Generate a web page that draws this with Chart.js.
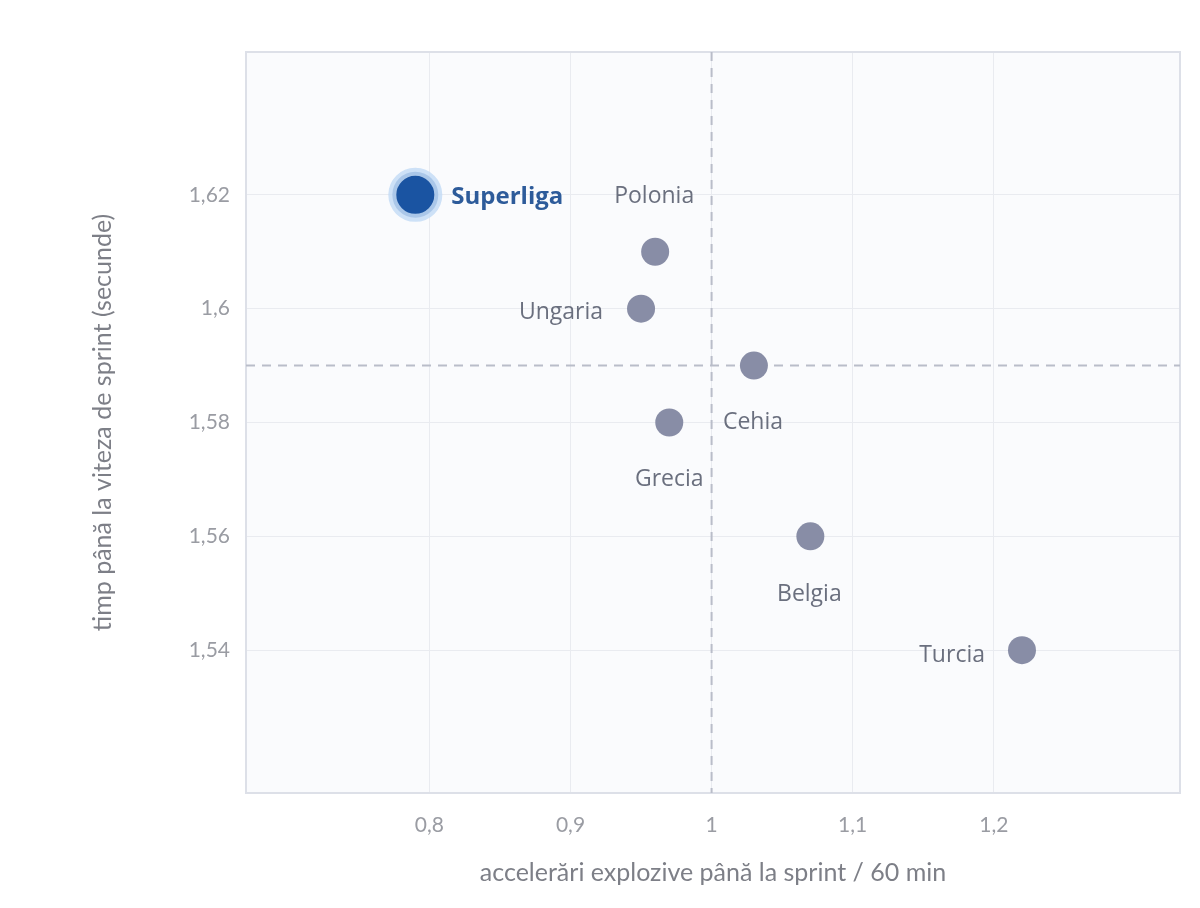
<!DOCTYPE html>
<html>
<head>
<meta charset="utf-8">
<script src="https://cdn.jsdelivr.net/npm/chart.js@4"></script>
<style>
  html, body { margin: 0; padding: 0; background: #ffffff; overflow: hidden; }
  canvas { display: block; }
</style>
</head>
<body>
<canvas id="grafic" width="1200" height="908"></canvas>
<script>
// date
const tari = ['Superliga', 'Polonia', 'Ungaria', 'Cehia', 'Grecia', 'Belgia', 'Turcia'];
const acceleratii = [0.79, 0.96, 0.95, 1.03, 0.97, 1.07, 1.22];
const timpi = [1.62, 1.61, 1.60, 1.59, 1.58, 1.56, 1.54];
const xTicks = [0.8, 0.9, 1.0, 1.1, 1.2];
const yTicks = [1.54, 1.56, 1.58, 1.60, 1.62];
const medieX = 1.0;
const medieY = 1.59;

// unde sta eticheta fata de punct (stil, nu date)
const pozEticheta = {
  Superliga: { dx: 36, dy: 2, align: 'left' },
  Polonia: { dx: -1, dy: -55, align: 'center' },
  Ungaria: { dx: -38, dy: 4, align: 'right' },
  Cehia: { dx: -31, dy: 57, align: 'left' },
  Grecia: { dx: 0, dy: 57, align: 'center' },
  Belgia: { dx: -1, dy: 58, align: 'center' },
  Turcia: { dx: -37, dy: 5, align: 'right' }
};

const virgula = v => String(Math.round(v * 100) / 100).replace('.', ',');

const fundalPlugin = {
  id: 'fundal',
  beforeDraw(chart) {
    const { ctx, chartArea: a } = chart;
    ctx.save();
    ctx.fillStyle = '#fafbfd';
    ctx.fillRect(a.left, a.top, a.right - a.left, a.bottom - a.top);
    ctx.restore();
  },
  beforeDatasetsDraw(chart) {
    const { ctx, chartArea: a, scales } = chart;
    const px = scales.x.getPixelForValue(medieX);
    const py = scales.y.getPixelForValue(medieY);
    ctx.save();
    ctx.strokeStyle = '#dde0e8';
    ctx.lineWidth = 2;
    ctx.strokeRect(a.left, a.top, a.right - a.left, a.bottom - a.top);
    ctx.strokeStyle = '#b9bdc9';
    ctx.setLineDash([9, 7]);
    ctx.beginPath();
    ctx.moveTo(px, a.top);
    ctx.lineTo(px, a.bottom);
    ctx.moveTo(a.left, py);
    ctx.lineTo(a.right, py);
    ctx.stroke();
    ctx.restore();
  }
};

const etichetePlugin = {
  id: 'etichete',
  afterDatasetsDraw(chart) {
    const ctx = chart.ctx;
    const meta = chart.getDatasetMeta(0);
    ctx.save();
    ctx.textBaseline = 'middle';
    meta.data.forEach((pt, i) => {
      const nume = tari[i];
      const p = pozEticheta[nume];
      if (nume === 'Superliga') {
        ctx.font = 'bold 24px "Open Sans"';
        ctx.fillStyle = '#2d5b9a';
      } else {
        ctx.font = '23px "Open Sans"';
        ctx.fillStyle = '#6a6f7e';
      }
      ctx.textAlign = p.align;
      ctx.fillText(nume, pt.x + p.dx, pt.y + p.dy);
    });
    ctx.restore();
  }
};

new Chart(document.getElementById('grafic'), {
  type: 'scatter',
  data: {
    datasets: [{
      data: tari.map((t, i) => ({ x: acceleratii[i], y: timpi[i] })),
      pointRadius: tari.map(t => t === 'Superliga' ? 23 : 14),
      pointBackgroundColor: tari.map(t => t === 'Superliga' ? '#1a54a2' : '#888da6'),
      pointBorderColor: tari.map(t => t === 'Superliga' ? 'rgba(196,220,246,0.85)' : '#888da6'),
      pointBorderWidth: tari.map(t => t === 'Superliga' ? 8 : 0),
      pointHoverRadius: tari.map(t => t === 'Superliga' ? 23 : 14)
    }]
  },
  options: {
    responsive: false,
    animation: false,
    layout: { autoPadding: false, padding: { top: 52, right: 20, left: 0, bottom: 0 } },
    plugins: {
      legend: { display: false },
      tooltip: { enabled: false }
    },
    scales: {
      x: {
        type: 'linear',
        min: 0.67,
        max: 1.332,
        afterFit(s) { s.height = 115; s.paddingLeft = 0; s.paddingRight = 0; },
        afterBuildTicks(s) { s.ticks = xTicks.map(v => ({ value: v })); },
        border: { display: false },
        grid: { color: '#e9ebf0', lineWidth: 1, drawTicks: false },
        ticks: {
          padding: 20,
          color: '#9a9ca3',
          font: { family: 'Lato', size: 21 },
          callback: v => virgula(v)
        },
        title: {
          display: true,
          text: 'accelerări explozive până la sprint / 60 min',
          color: '#7d7f87',
          font: { family: 'Lato', size: 25 },
          padding: { top: 0, bottom: 20 }
        }
      },
      y: {
        type: 'linear',
        min: 1.5149,
        max: 1.6451,
        afterFit(s) { s.width = 246; s.paddingTop = 0; s.paddingBottom = 0; },
        afterBuildTicks(s) { s.ticks = yTicks.map(v => ({ value: v })); },
        border: { display: false },
        grid: { color: '#e9ebf0', lineWidth: 1, drawTicks: false },
        ticks: {
          padding: 16,
          color: '#9a9ca3',
          font: { family: 'Lato', size: 21 },
          callback: v => virgula(v)
        },
        title: {
          display: true,
          text: 'timp până la viteza de sprint (secunde)',
          color: '#7d7f87',
          font: { family: 'Lato', size: 25 },
          padding: { top: 88, bottom: 0 }
        }
      }
    }
  },
  plugins: [fundalPlugin, etichetePlugin]
});
</script>
</body>
</html>
